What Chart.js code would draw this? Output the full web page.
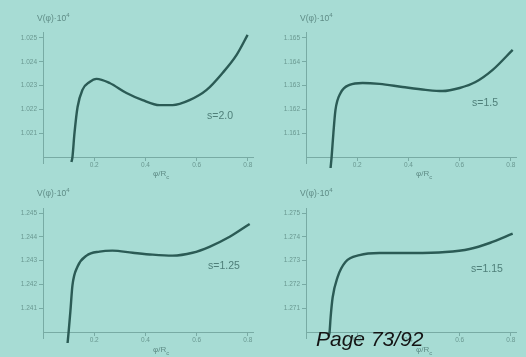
<!DOCTYPE html>
<html><head><meta charset="utf-8">
<script src="https://cdn.jsdelivr.net/npm/chart.js@4.4.1/dist/chart.umd.min.js"></script>
<style>
html,body{margin:0;padding:0;width:526px;height:357px;overflow:hidden;background:#a7dcd4;}
.p{position:absolute;width:263px;}
.p canvas{display:block;}
.t{position:absolute;font-family:"Liberation Sans",Arial,sans-serif;white-space:nowrap;line-height:1;}
.yt{font-size:8.5px;color:#5f8c86;}
.xt{font-size:8px;color:#5f8c86;}
.an{font-size:10.5px;color:#4f7f79;}
.page{font-size:21px;line-height:21px;font-style:italic;color:#141414;left:316px;top:328px;}
</style></head><body>
<div class="p" style="left:0;top:0;height:178px"><canvas id="c1" width="263" height="178"></canvas></div>
<div class="p" style="left:263px;top:0;height:178px"><canvas id="c2" width="263" height="178"></canvas></div>
<div class="p" style="left:0;top:178px;height:179px"><canvas id="c3" width="263" height="179"></canvas></div>
<div class="p" style="left:263px;top:178px;height:179px"><canvas id="c4" width="263" height="179"></canvas></div>

<div class="t yt" style="left:37px;top:12px">V(φ)·10<sup style="font-size:6px">4</sup></div>
<div class="t yt" style="left:300px;top:12px">V(φ)·10<sup style="font-size:6px">4</sup></div>
<div class="t yt" style="left:37px;top:187px">V(φ)·10<sup style="font-size:6px">4</sup></div>
<div class="t yt" style="left:300px;top:187px">V(φ)·10<sup style="font-size:6px">4</sup></div>

<div class="t xt" style="left:153px;top:170px">φ/R<sub style="font-size:6px">c</sub></div>
<div class="t xt" style="left:416px;top:170px">φ/R<sub style="font-size:6px">c</sub></div>
<div class="t xt" style="left:153px;top:346px">φ/R<sub style="font-size:6px">c</sub></div>
<div class="t xt" style="left:416px;top:346px">φ/R<sub style="font-size:6px">c</sub></div>

<div class="t an" style="left:207px;top:110px">s=2.0</div>
<div class="t an" style="left:472px;top:97px">s=1.5</div>
<div class="t an" style="left:208px;top:260px">s=1.25</div>
<div class="t an" style="left:471px;top:263px">s=1.15</div>

<div class="t page">Page 73/92</div>

<script>
// x ticks (phi / R_c)
const xTicks = [0.2, 0.4, 0.6, 0.8];
const xTickLabels = ["0.2", "0.4", "0.6", "0.8"];
// y tick positions (in tick units above the x axis) and labels per panel
const yTicks = [1, 2, 3, 4, 5];
const yLabels1 = ["1.021", "1.022", "1.023", "1.024", "1.025"];
const yLabels2 = ["1.161", "1.162", "1.163", "1.164", "1.165"];
const yLabels3 = ["1.241", "1.242", "1.243", "1.244", "1.245"];
const yLabels4 = ["1.271", "1.272", "1.273", "1.274", "1.275"];

// panel 1: s=2.0
const phi1 = [0.111, 0.115, 0.123, 0.135, 0.154, 0.182, 0.209, 0.26, 0.326, 0.389, 0.455, 0.506, 0.572, 0.639, 0.701, 0.756, 0.799];
const v1   = [-0.21, 0, 1.01, 2.10, 2.82, 3.15, 3.28, 3.11, 2.69, 2.39, 2.18, 2.18, 2.39, 2.82, 3.53, 4.29, 5.13];
// panel 2: s=1.5
const phi2 = [0.096, 0.100, 0.107, 0.115, 0.135, 0.170, 0.221, 0.287, 0.377, 0.467, 0.533, 0.600, 0.662, 0.729, 0.807];
const v2   = [-0.46, 0, 1.01, 1.97, 2.69, 3.03, 3.11, 3.07, 2.94, 2.82, 2.77, 2.90, 3.15, 3.66, 4.50];
// panel 3: s=1.25
const phi3 = [0.096, 0.100, 0.107, 0.115, 0.135, 0.170, 0.221, 0.271, 0.350, 0.428, 0.506, 0.584, 0.650, 0.729, 0.807];
const v3   = [-0.46, 0, 0.88, 1.96, 2.75, 3.21, 3.38, 3.42, 3.33, 3.25, 3.21, 3.33, 3.58, 4.00, 4.54];
// panel 4: s=1.15
const phi4 = [0.088, 0.092, 0.096, 0.104, 0.123, 0.154, 0.209, 0.287, 0.416, 0.545, 0.639, 0.717, 0.807];
const v4   = [-0.17, 0, 0.60, 1.45, 2.30, 2.94, 3.23, 3.32, 3.32, 3.36, 3.49, 3.74, 4.13];

const CURVE = '#2b5b55';
const AXIS = '#78aba4';
const TICKTXT = '#6a9891';

function makeChart(id, phi, v, yLabels, ymin, ymax, padTop, padBottom) {
  new Chart(document.getElementById(id), {
    type: 'scatter',
    data: { datasets: [{
      data: phi.map((x, i) => ({ x: x, y: v[i] })),
      showLine: true, borderColor: CURVE, borderWidth: 2.4, clip: false,
      pointRadius: 0, cubicInterpolationMode: 'monotone', fill: false
    }]},
    options: {
      responsive: false, animation: false, events: [],
      layout: { padding: { left: 0, right: 10, top: padTop, bottom: padBottom } },
      plugins: { legend: { display: false }, tooltip: { enabled: false } },
      scales: {
        x: {
          type: 'linear', min: 0, max: 0.82, position: { y: 0 },
          afterBuildTicks: s => { s.ticks = xTicks.map(t => ({ value: t })); },
          ticks: { callback: (val, i) => xTickLabels[i], color: TICKTXT,
                   font: { family: 'Liberation Sans', size: 6.5 }, padding: 1,
                   maxRotation: 0, autoSkip: false },
          grid: { drawOnChartArea: false, drawTicks: true, tickLength: 3, color: AXIS },
          border: { display: true, color: AXIS, width: 1 }
        },
        y: {
          type: 'linear', min: ymin, max: ymax, position: 'left',
          afterFit: s => { s.width = 43; },
          afterBuildTicks: s => { s.ticks = yTicks.map(t => ({ value: t })); },
          ticks: { callback: (val, i) => yLabels[i], color: TICKTXT,
                   font: { family: 'Liberation Sans', size: 6.5 }, padding: 2, autoSkip: false },
          grid: { drawOnChartArea: false, drawTicks: true, tickLength: 4, color: AXIS },
          border: { display: true, color: AXIS, width: 1 }
        }
      }
    }
  });
}

makeChart('c1', phi1, v1, yLabels1, -0.25, 5.25, 32, 15);
makeChart('c2', phi2, v2, yLabels2, -0.25, 5.25, 32, 15);
makeChart('c3', phi3, v3, yLabels3, -0.25, 5.21, 30, 19);
makeChart('c4', phi4, v4, yLabels4, -0.25, 5.21, 30, 19);
</script>
</body></html>
